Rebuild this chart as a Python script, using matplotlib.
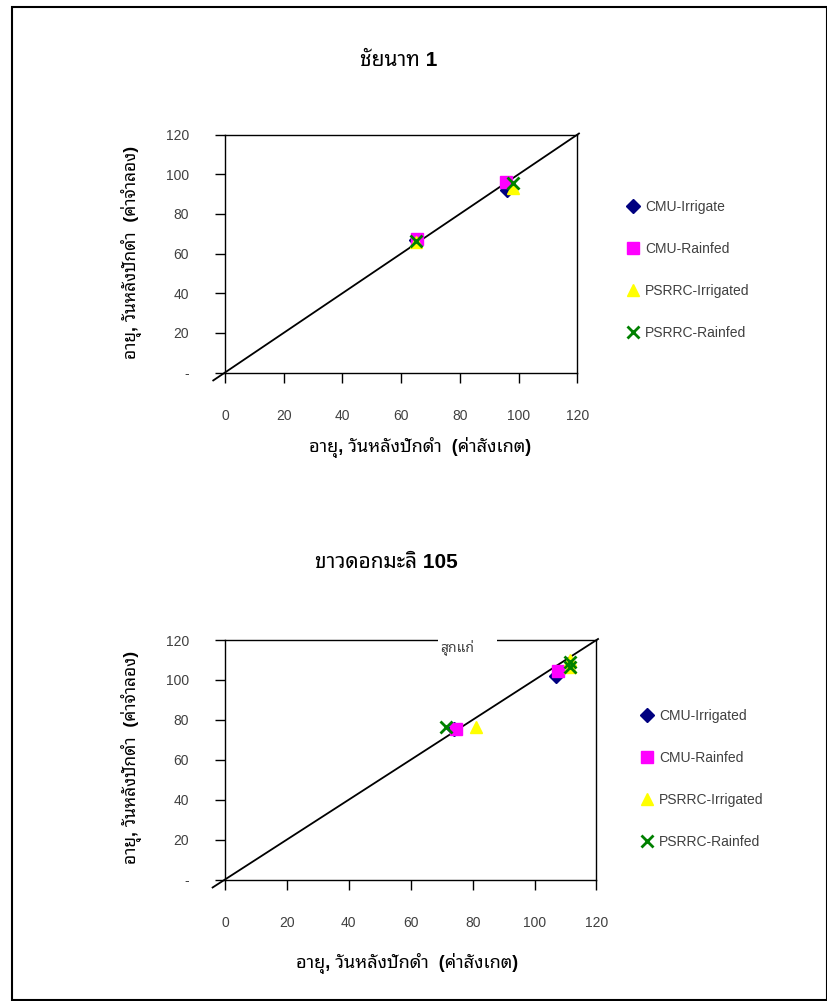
import matplotlib
matplotlib.use("Agg")
import matplotlib.pyplot as plt
from matplotlib import font_manager
from matplotlib.ft2font import FT2Font

# data
series = ['CMU-Irrigate', 'CMU-Rainfed', 'PSRRC-Irrigated', 'PSRRC-Rainfed']
series2 = ['CMU-Irrigated', 'CMU-Rainfed', 'PSRRC-Irrigated', 'PSRRC-Rainfed']

# chart 1: ชัยนาท 1  (observed, simulated)
cmu_irr_obs = [65, 96]
cmu_irr_sim = [67, 92]
cmu_rain_obs = [65.5, 95.5]
cmu_rain_sim = [67.5, 96]
ps_irr_obs = [65, 98]
ps_irr_sim = [66, 93]
ps_rain_obs = [65, 98]
ps_rain_sim = [66.5, 95.5]

# chart 2: ขาวดอกมะลิ 105
k_cmu_irr_obs = [74, 107]
k_cmu_irr_sim = [75.5, 102]
k_cmu_rain_obs = [74.5, 107.5]
k_cmu_rain_sim = [75.5, 104.5]
k_ps_irr_obs = [81, 111.5, 111.5]
k_ps_irr_sim = [76.5, 110, 106.5]
k_ps_rain_obs = [71.5, 111.5, 111.5]
k_ps_rain_sim = [76.5, 109, 106.5]

ticks = [0, 20, 40, 60, 80, 100, 120]
ytick_labels = ['-', '20', '40', '60', '80', '100', '120']

# pick a Thai family that is installed
thai_fonts = set()
for f in font_manager.fontManager.ttflist:
    try:
        if 0x0E01 in FT2Font(f.fname).get_charmap():
            thai_fonts.add(f.name)
    except Exception:
        pass
prefer = ['Noto Sans Thai Looped', 'IBM Plex Sans Thai Looped', 'Sarabun', 'Noto Sans Thai',
          'IBM Plex Sans Thai', 'Tlwg Typo', 'Loma', 'Garuda']
thai = [p for p in prefer if p in thai_fonts][:1] or sorted(thai_fonts)[:1]
plt.rcParams['font.family'] = ['Liberation Sans'] + thai + ['DejaVu Sans']

W, H = 828, 1001
fig = plt.figure(figsize=(W / 100, H / 100), dpi=100)


def fx(x):
    return x / W


def fy(y):
    return 1 - y / H


# outer frame
fig.patches.append(plt.Rectangle((fx(12), 0.0005), fx(815), fy(7) - 0.0005,
                                 transform=fig.transFigure, fill=False, lw=1.5, ec='black'))

grey = '#404040'
styles = [dict(marker='D', color='#000080', ms=7),
          dict(marker='s', color='#ff00ff', ms=9),
          dict(marker='^', color='#ffff00', ms=9),
          dict(marker='x', color='#008000', ms=9, mew=2)]


def setup(ax):
    ax.set_xlim(0, 120)
    ax.set_ylim(0, 120)
    ax.set_xticks(ticks)
    ax.set_yticks(ticks)
    ax.set_yticklabels(ytick_labels)
    ax.tick_params(direction='out', length=7, width=1, pad=19, labelsize=10, labelcolor=grey)
    for s in ax.spines.values():
        s.set_linewidth(1)
    ax.plot([-4, 120.5], [-4, 120.5], color='black', lw=1.3, clip_on=False, zorder=1)


# ---- chart 1
ax1 = fig.add_axes([fx(225), fy(372.5), fx(577.5 - 225), fy(134.5) - fy(372.5)])
setup(ax1)
data1 = [(cmu_irr_obs, cmu_irr_sim), (cmu_rain_obs, cmu_rain_sim),
         (ps_irr_obs, ps_irr_sim), (ps_rain_obs, ps_rain_sim)]
h1 = []
for (xo, ys), st, lab in zip(data1, styles, series):
    ln, = ax1.plot(xo, ys, ls='none', label=lab, clip_on=False, zorder=3, **st)
    h1.append(ln)
fig.legend(handles=h1, loc='upper left', bbox_to_anchor=(fx(627), fy(200)), frameon=False,
           fontsize=10, labelspacing=2.02, handlelength=0.9, handletextpad=0.4,
           labelcolor=grey, borderaxespad=0, borderpad=0)
fig.text(fx(399), fy(60), 'ชัยนาท 1', ha='center', va='center', fontsize=15, fontweight='bold')
fig.text(fx(420), fy(448), 'อายุ, วันหลังปักดำ  (ค่าสังเกต)', ha='center', va='center',
         fontsize=13, fontweight='bold')
fig.text(fx(132), fy(252), 'อายุ, วันหลังปักดำ  (ค่าจำลอง)', ha='center', va='center',
         fontsize=12.5, fontweight='bold', rotation=90)

# ---- chart 2
ax2 = fig.add_axes([fx(225), fy(879.5), fx(596.5 - 225), fy(640) - fy(879.5)])
setup(ax2)
data2 = [(k_cmu_irr_obs, k_cmu_irr_sim), (k_cmu_rain_obs, k_cmu_rain_sim),
         (k_ps_irr_obs, k_ps_irr_sim), (k_ps_rain_obs, k_ps_rain_sim)]
h2 = []
for (xo, ys), st, lab in zip(data2, styles, series2):
    ln, = ax2.plot(xo, ys, ls='none', label=lab, clip_on=False, zorder=3, **st)
    h2.append(ln)
fig.legend(handles=h2, loc='upper left', bbox_to_anchor=(fx(641), fy(709)), frameon=False,
           fontsize=10, labelspacing=2.02, handlelength=0.9, handletextpad=0.4,
           labelcolor=grey, borderaxespad=0, borderpad=0)
# "สุกแก่" box over the top spine
ax2.add_patch(plt.Rectangle((0.573, 0.975), 0.16, 0.05, transform=ax2.transAxes,
                            fc='white', ec='none', clip_on=False, zorder=4))
ax2.text(0.58, 0.966, 'สุกแก่', transform=ax2.transAxes, ha='left', va='center',
         fontsize=10, color=grey, zorder=5)
fig.text(fx(386), fy(563), 'ขาวดอกมะลิ 105', ha='center', va='center', fontsize=15,
         fontweight='bold')
fig.text(fx(407), fy(963), 'อายุ, วันหลังปักดำ  (ค่าสังเกต)', ha='center', va='center',
         fontsize=13, fontweight='bold')
fig.text(fx(132), fy(757), 'อายุ, วันหลังปักดำ  (ค่าจำลอง)', ha='center', va='center',
         fontsize=12.5, fontweight='bold', rotation=90)

plt.savefig("out.png", dpi=100)
